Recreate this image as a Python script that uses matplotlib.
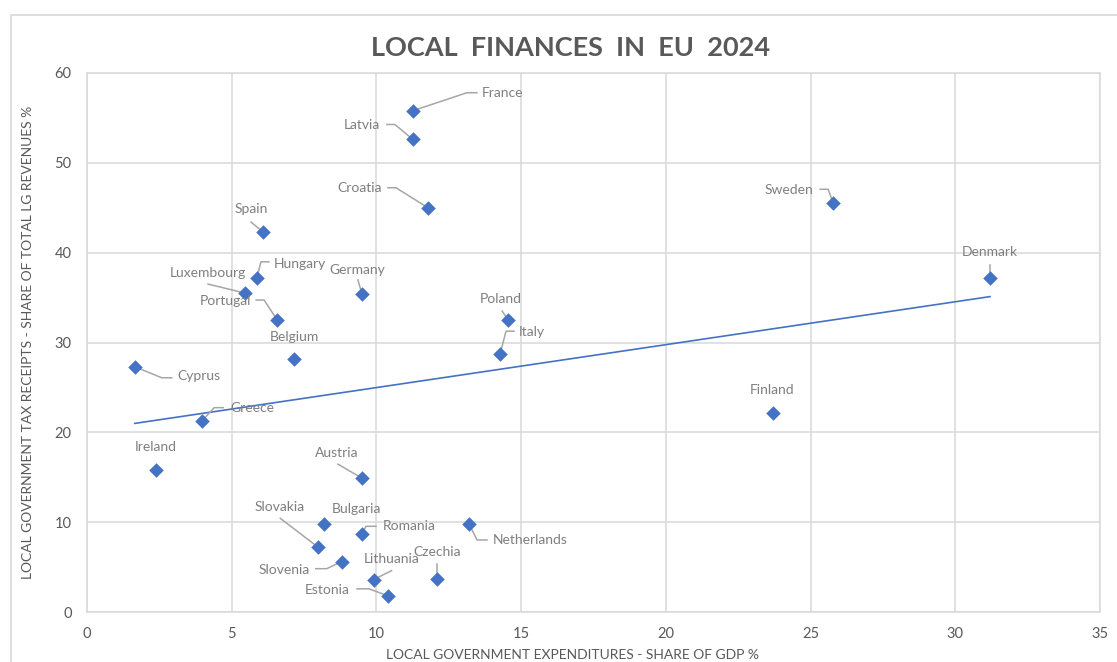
import numpy as np
import matplotlib.pyplot as plt
from matplotlib.patches import Rectangle
from matplotlib.transforms import Affine2D

countries = ['France', 'Latvia', 'Croatia', 'Spain', 'Hungary', 'Luxembourg', 'Germany',
             'Portugal', 'Belgium', 'Poland', 'Italy', 'Cyprus', 'Greece', 'Ireland',
             'Austria', 'Slovakia', 'Bulgaria', 'Romania', 'Netherlands', 'Slovenia',
             'Lithuania', 'Czechia', 'Estonia', 'Sweden', 'Denmark', 'Finland']
expenditure = [11.26, 11.26, 11.78, 6.08, 5.87, 5.46, 9.5,
               6.57, 7.15, 14.55, 14.27, 1.65, 3.98, 2.37,
               9.5, 7.99, 8.2, 9.5, 13.2, 8.8,
               9.9, 12.1, 10.4, 25.78, 31.2, 23.7]
tax_share = [55.8, 52.6, 45.0, 42.3, 37.2, 35.5, 35.4,
             32.5, 28.2, 32.5, 28.7, 27.3, 21.3, 15.8,
             14.9, 7.2, 9.8, 8.65, 9.8, 5.6,
             3.6, 3.7, 1.8, 45.5, 37.2, 22.2]

x_ticks = [0, 5, 10, 15, 20, 25, 30, 35]
y_ticks = [0, 10, 20, 30, 40, 50, 60]

# label placement: text offset and leader vertices in pixels (x right, y down) from the point
label_layout = {
    'France': ((90, -18), [(64, -18), (54, -18)]),
    'Latvia': ((-51, -14), [(-26, -15), (-18, -15)]),
    'Croatia': ((-68, -20), [(-40, -20), (-32, -20)]),
    'Spain': ((-12, -23), [(-12, -10)]),
    'Hungary': ((43, -14), [(12, -16), (4, -16)]),
    'Luxembourg': ((-37, -20), [(-37, -9)]),
    'Germany': ((-5, -24), [(-4, -14)]),
    'Portugal': ((-52, -19), [(-21, -20), (-13, -20)]),
    'Belgium': ((0, -22), []),
    'Poland': ((-7, -21), [(-6, -9)]),
    'Italy': ((32, -22), [(14, -23), (6, -23)]),
    'Cyprus': ((64, 9), [(37, 11), (27, 11)]),
    'Greece': ((50, -13), [(21, -13), (12, -13)]),
    'Ireland': ((0, -23), []),
    'Austria': ((-25, -25), [(-24, -14)]),
    'Slovakia': ((-39, -40), [(-38, -29)]),
    'Bulgaria': ((32, -15), []),
    'Romania': ((47, -8), [(14, -8), (4, -8)]),
    'Netherlands': ((61, 16), [(18, 16), (8, 16)]),
    'Slovenia': ((-58, 8), [(-26, 7), (-15, 7)]),
    'Lithuania': ((18, -21), [(18, -9)]),
    'Czechia': ((0, -27), [(0, -15)]),
    'Estonia': ((-61, -6), [(-31, -7), (-19, -7)]),
    'Sweden': ((-44, -13), [(-13, -14), (-5, -14)]),
    'Denmark': ((0, -26), [(0, -13)]),
    'Finland': ((-1, -23), []),
}

plt.rcParams['font.family'] = ['Lato', 'DejaVu Sans']
blue = '#4472C4'
grey_txt = '#595959'
grid_c = '#d9d9d9'

W, H = 1117, 662
fig = plt.figure(figsize=(W / 100, H / 100), dpi=100)
fig.patches.append(Rectangle((11 / W, -0.1), 1.2, (H - 15) / H + 0.1, transform=fig.transFigure,
                             fill=False, ec=grid_c, lw=1.2))

ax = fig.add_axes([87 / W, 1 - 612 / H, (1100 - 87) / W, (612 - 73) / H])
ax.set_xlim(0, 35)
ax.set_ylim(0, 60)
ax.set_xticks(x_ticks)
ax.set_yticks(y_ticks)
ax.grid(color=grid_c, linewidth=1.1)
ax.set_axisbelow(True)
for s in ax.spines.values():
    s.set_color(grid_c)
    s.set_linewidth(1.1)
ax.tick_params(length=0, labelsize=10.5, colors=grey_txt)
ax.tick_params(axis='x', pad=11)
ax.tick_params(axis='y', pad=11)

# trendline (linear fit over the data range)
slope, intercept = np.polyfit(expenditure, tax_share, 1)
xs = np.array([min(expenditure), max(expenditure)])
ax.plot(xs, slope * xs + intercept, color=blue, linewidth=1.2, zorder=2)

ax.scatter(expenditure, tax_share, marker='D', s=55, color=blue, zorder=4, linewidths=0)

fig.canvas.draw()
for name, xv, yv in zip(countries, expenditure, tax_share):
    (tx, ty), leader = label_layout[name]
    ax.annotate(name, xy=(xv, yv), xytext=(tx, -ty), textcoords='offset pixels',
                ha='center', va='center', fontsize=10, color='#7f7f7f', zorder=5)
    if leader:
        px, py = ax.transData.transform((xv, yv))
        lx = [p[0] for p in leader] + [0]
        ly = [-p[1] for p in leader] + [0]
        ax.plot(lx, ly, color='#a6a6a6', linewidth=1.1, zorder=3,
                transform=Affine2D().translate(px, py), clip_on=False)

ax.set_xlabel('LOCAL GOVERNMENT EXPENDITURES - SHARE OF GDP %', fontsize=10, color=grey_txt)
ax.xaxis.set_label_coords((573 - 87) / 1013, -(655 - 612) / 539)
ax.xaxis.label.set_va('center')
ax.set_ylabel('LOCAL GOVERNMENT TAX RECEIPTS - SHARE OF TOTAL LG REVENUES %', fontsize=10, color=grey_txt)
ax.yaxis.set_label_coords(-(87 - 28) / 1013, 0.5)
ax.yaxis.label.set_va('center')

fig.text(571 / W, 1 - 48 / H, 'LOCAL  FINANCES  IN  EU  2024', ha='center', va='center',
         fontsize=19.5, fontweight='bold', color=grey_txt)

fig.savefig('out.png', dpi=100)
